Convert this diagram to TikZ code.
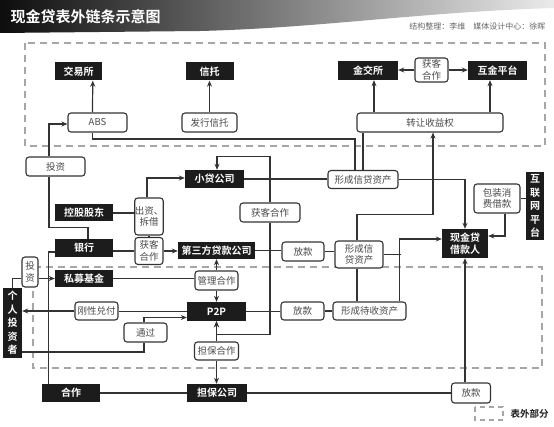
\documentclass[tikz,border=0pt]{standalone}
\usepackage{fontspec}
\setmainfont{Noto Sans CJK SC}[BoldFont={Noto Sans CJK SC Bold}]
\usepackage{tikz}
\usetikzlibrary{arrows.meta,calc}
\usepackage{xcolor}
\definecolor{boxblack}{HTML}{1C1C1C}
\definecolor{linegray}{HTML}{333333}
\definecolor{dashgray}{HTML}{A6A6A6}
\definecolor{labelgray}{HTML}{4A4A4A}
\definecolor{creditgray}{HTML}{666666}

\begin{document}
\begin{tikzpicture}[
  x=1pt, y=-1pt,
  >={Stealth[length=6pt,width=5pt]},
  darkcard/.style={
    fill=boxblack,
    text=white,
    inner sep=0pt,
    minimum height=18pt,
    align=center,
    font=\fontsize{10}{12}\selectfont\bfseries
  },
  lightcard/.style={
    draw=linegray,
    fill=white,
    text=labelgray,
    rounded corners=3pt,
    line width=1.1pt,
    inner sep=0pt,
    minimum height=19pt,
    align=center,
    font=\fontsize{9.5}{11.5}\selectfont
  },
  link/.style={draw=linegray, line width=1.2pt},
  offbook/.style={draw=dashgray, line width=1.8pt, dash pattern=on 7pt off 5pt}
]

  \useasboundingbox (0,0) rectangle (554,427);
  \fill[white] (0,0) rectangle (554,427);

  % Title banner
  \shade[left color=black!95, middle color=black!65, right color=black!8]
    (0,0) -- (554,0) -- (554,8) .. controls (420,12) and (320,28) .. (200,31) -- (0,33) -- cycle;
  \node[anchor=west, text=white, font=\fontsize{15}{18}\selectfont\bfseries] (title) at (7,17) {现金贷表外链条示意图};
  \node[anchor=east, text=creditgray, font=\fontsize{8}{10}\selectfont] (credit) at (549,26) {结构整理：李维\quad 媒体设计中心：徐晖};

  % Off-balance-sheet areas
  \draw[offbook] (25,43) rectangle (545,146);
  \draw[offbook] (33,267) rectangle (542,368);

  % Top row
  \node[darkcard, minimum width=47pt] (jys) at (78.5,71.5) {交易所};
  \node[darkcard, minimum width=48pt] (xt) at (209.5,71.5) {信托};
  \node[darkcard, minimum width=60pt, minimum height=19pt] (jjs) at (368,70.5) {金交所};
  \node[darkcard, minimum width=59pt, minimum height=19pt] (hjpt) at (497.5,70.5) {互金平台};
  \node[lightcard, minimum width=33pt, minimum height=24pt] (hkhz1) at (431.5,70) {获客\\合作};

  \node[lightcard, minimum width=59pt] (abs) at (97.5,122.5) {ABS};
  \node[lightcard, minimum width=55pt] (fxxt) at (209.5,122.5) {发行信托};
  \node[lightcard, minimum width=146pt] (zrsyq) at (430,122.5) {转让收益权};

  % Middle part
  \node[lightcard, minimum width=59pt] (tz1) at (55.5,166.5) {投资};
  \node[darkcard, minimum width=59pt] (xdgs) at (214.5,179) {小贷公司};
  \node[lightcard, minimum width=70pt, minimum height=18pt] (xcxd1) at (363,179.5) {形成信贷资产};
  \node[lightcard, minimum width=60pt] (hkhz2) at (270,212.5) {获客合作};
  \node[darkcard, minimum width=58pt, minimum height=17pt] (kgdd) at (84,213) {控股股东};
  \node[lightcard, minimum width=28pt, minimum height=37pt] (czcj) at (149,216.5) {出资、\\拆借};
  \node[lightcard, minimum width=28pt, minimum height=27pt] (hkhz3) at (149,251) {获客\\合作};
  \node[darkcard, minimum width=58pt] (yh) at (84,248) {银行};
  \node[darkcard, minimum width=77pt, minimum height=17pt] (dsf) at (216.5,250.5) {第三方贷款公司};
  \node[lightcard, minimum width=42pt] (fk1) at (303,251.5) {放款};
  \node[lightcard, minimum width=48pt, minimum height=27pt] (xcxd2) at (359,254.5) {形成信\\贷资产};
  \node[darkcard, minimum width=46pt, minimum height=29pt] (xjd) at (465,243.5) {现金贷\\借款人};
  \node[lightcard, minimum width=46pt, minimum height=29pt] (bzxf) at (497,198.5) {包装消\\费借款};
  \node[darkcard, minimum width=18pt, minimum height=68pt, font=\fontsize{10}{13.5}\selectfont\bfseries] (hlw) at (535,206) {互\\联\\网\\平\\台};

  % Lower part
  \node[lightcard, minimum width=16pt, minimum height=30pt] (tz2) at (30,272) {投\\资};
  \node[darkcard, minimum width=58pt, minimum height=17pt] (smjj) at (84,278.5) {私募基金};
  \node[lightcard, minimum width=43pt] (glhz) at (216.5,280.5) {管理合作};
  \node[darkcard, minimum width=19pt, minimum height=70pt, font=\fontsize{10}{13.5}\selectfont\bfseries] (gr) at (12.5,323) {个\\人\\投\\资\\者};
  \node[darkcard, minimum width=59pt, minimum height=19pt] (p2p) at (216.5,311.5) {P2P};
  \node[lightcard, minimum width=43pt, minimum height=18pt] (gxdf) at (96.5,311) {刚性兑付};
  \node[lightcard, minimum width=43pt, minimum height=18pt] (fk2) at (302.5,311) {放款};
  \node[lightcard, minimum width=73pt, minimum height=18pt] (xcds) at (369.5,311) {形成待收资产};
  \node[lightcard, minimum width=43pt] (tg) at (145.5,332.5) {通过};
  \node[lightcard, minimum width=44pt, minimum height=18pt] (dbhz) at (216.5,351) {担保合作};
  \node[darkcard, minimum width=60pt] (dbgs) at (217,393) {担保公司};
  \node[darkcard, minimum width=58pt] (hz) at (71,393) {合作};
  \node[lightcard, minimum width=39pt, minimum height=20pt] (fk3) at (471,393) {放款};

  % Legend
  \draw[offbook, line width=1.5pt, dash pattern=on 5pt off 4pt] (475,407) rectangle (503,420);
  \node[anchor=west, text=boxblack, font=\fontsize{9.5}{11}\selectfont\bfseries] (legend) at (507,413.5) {表外部分};

  % Connectors, top area
  \draw[link, ->] ($(abs.north west)+(25,0)$) -- ($(jys.south west)+(38,0)$);
  \draw[link, ->] (fxxt.north) -- (fxxt.north |- xt.south);
  \draw[link, ->] ($(jjs.south |- zrsyq.north)+(6,0)$) -- ($(jjs.south)+(6,0)$);
  \draw[link, ->] ($(hjpt.south |- zrsyq.north)+(-7.5,0)$) -- ($(hjpt.south)+(-7.5,0)$);
  \draw[link, ->] (hkhz1.west) -- (hkhz1.west -| jjs.east);
  \draw[link, ->] (hkhz1.east) -- (hkhz1.east -| hjpt.west);
  \draw[link] (xcxd1.north) -- (xcxd1.north |- zrsyq.south);
  \draw[link] ($(xcxd1.north)+(-8,0)$) -- ++(0,-31) -| ($(abs.south west)+(25,0)$);

  % Connectors, middle area
  \draw[link] ($(yh.north)+(4,0)$) -- ++(0,-11.5) -| ($(tz1.south)+(-6.5,0)$);
  \draw[link, ->] ($(tz1.north)+(-6.5,0)$) |- ($(abs.west)+(0,1.5)$);
  \draw[link] (xdgs.east) -- (xdgs.east -| xcxd1.west);
  \draw[link, ->] (xcxd1.east) -| (xjd.north);
  \draw[link, ->] (hkhz2.north) -- ++(0,-46) -| ($(xdgs.north)+(2.5,0)$);
  \draw[link, ->] (hkhz2.south) -- ++(0,112) -| (p2p.south);
  \draw[link] (kgdd.east) -- (kgdd.east -| czcj.west);
  \draw[link, ->] ($(czcj.north)+(-2,0)$) |- ($(xdgs.west)+(0,-1)$);
  \draw[link] (czcj.south) -- (hkhz3.north);
  \draw[link] ($(yh.east)+(0,3)$) -- ($(yh.east -| hkhz3.west)+(0,3)$);
  \draw[link, ->] (hkhz3.east) -- (hkhz3.east -| dsf.west);
  \draw[link] (dsf.east) -- (dsf.east -| fk1.west);
  \draw[link] (fk1.east) -- (fk1.east -| xcxd2.west);
  \draw[link] (xcxd2.east) -- ++(17,0);
  \draw[link, ->] ($(xcds.north west)+(67,0)$) |- ($(xjd.west)+(0,-4.5)$);
  \draw[link, ->] ($(xcxd2.north)+(-2,0)$) -- ++(0,-26) -| ($(zrsyq.south)+(3,0)$);
  \draw[link] ($(xcxd2.south)+(-2,0)$) -- ($(xcxd2.south |- xcds.north)+(-2,0)$);
  \draw[link, ->] ($(bzxf.south)+(8,0)$) |- ($(xjd.east)+(0,-7.5)$);
  \draw[link] (hlw.west |- bzxf.east) -- (bzxf.east);

  % Connectors, lower area
  \draw[link] (gr.north) |- ($(tz2.west)+(0,6.5)$);
  \draw[link, ->] (tz2.east |- smjj.west) -- (smjj.west);
  \draw[link] (smjj.east) -- (smjj.east -| glhz.west);
  \draw[link, ->] (glhz.north) -- (glhz.north |- dsf.south);
  \draw[link, ->] (glhz.south) -- (glhz.south |- p2p.north);
  \draw[link] (p2p.west) -- (p2p.west -| gxdf.east);
  \draw[link, ->] (gxdf.west) -- (gxdf.west -| gr.east);
  \draw[link] ($(gr.east)+(0,29)$) -| ($(tg.south)+(-1.5,0)$);
  \draw[link, ->] ($(tg.north)+(-1.5,0)$) |- ($(p2p.west)+(0,6)$);
  \draw[link] (p2p.east) -- (p2p.east -| fk2.west);
  \draw[link] (fk2.east) -- (fk2.east -| xcds.west);
  \draw[link, ->] (dbhz.north) -- (dbhz.north |- p2p.south);
  \draw[link, ->] (dbhz.south) -- (dbhz.south |- dbgs.north);
  \draw[link] (hz.east) -- (dbgs.west);
  \draw[link] (dbgs.east) -- (fk3.west);
  \draw[link, ->] (xjd.south |- fk3.north) -- (xjd.south);
  \draw[link] ($(hz.north west)+(7,0)$) |- ($(yh.west)+(0,4)$);

\end{tikzpicture}
\end{document}
